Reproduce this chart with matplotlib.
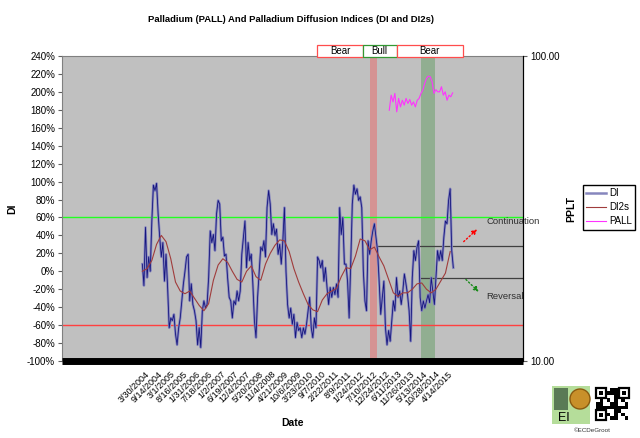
import numpy as np
import pandas as pd
import matplotlib
matplotlib.use('Agg')
import matplotlib.pyplot as plt
from matplotlib.patches import Rectangle, Circle
from matplotlib.ticker import FuncFormatter, NullLocator
import matplotlib.transforms as mtransforms

plt.rcParams['font.family'] = ['Liberation Sans', 'DejaVu Sans']

# %%
# DI readings, one every 21 days starting 2004-02-23 (in %)
di_start = '2004-02-23'
di = [8, -16, 49, -7, 16, 0, 56, 96, 90, 98, 64, 38, 16, 32, -11, 19, -18, -63, -52, -55,
      -48, -70, -82, -63, -52, -33, -14, 0, 16, 19, -33, -14, -37, -44, -55, -82, -63, -85, -44, -33,
      -41, -37, -7, 45, 32, 41, 23, 64, 79, 75,
      34, 38, 17, 19, -7, -29, -33, -52, -33, -37, -22, -33, -22, 19, 38, 56, 4, 32, 12, 19,
      -14, -55, -74, -29, 0, 27, 23, 34, 16, 71, 90, 75, 41, 53, 40, 47, 19, 30, 8, 34,
      71, 0, -37, -52, -41, -59, -48, -74, -57, -66,
      -63, -74, -63, -70, -59, -44, -29, -63, -74, -52, -63, 16, 12, 4, 12, -11, 4, -18, -37, -18,
      -29, -18, -26, -14, -29, 71, 41, 60, 8, 8, -11, -52, 8, 75, 96, 86, 92, 79, 83, 71,
      0, -33, -44, 34, 19, 34, 45, 53, 38, 23, -11,
      -48, -29, -11, -63, -82, -66, -78, -55, -33, -44, -7, -29, -22, -37, -22, -3, -14, -26, -44, -78,
      -7, 23, 12, 27, 34, -29, -44, -33, -41, -33, -26, -35, -7, -22, -37, -7, 23, 12, 23, 12,
      38, 56, 53, 79, 92, 23, 4]

# DI2s readings, every third DI date (in %)
di2s = [0, 3, 12, 30, 40, 33, 14, -12, -22, -25, -22, -30, -38, -44, -36, -10, 7, 14, 10, 0,
        -9, -12, 0, 6, -6, -10, 8, 20, 29, 35, 34, 22, 3, -12, -25, -37, -43, -45, -32, -25,
        -22, -19, -6, 4, 3, 17, 36, 34, 24, 27, 16, 6, -9, -24, -28, -24, -24, -20, -14, -13,
        -20, -24, -20, -11, -2, 22]

# PALL price (right log axis)
pall_start, pall_end = '2013-02-20', '2015-06-13'
pall = [66.4, 74.4, 70.7, 75.4, 65.6, 72.6, 68.1, 71.6, 69.0, 72.6, 69.9, 72.0, 69.0, 70.7, 68.1,
        71.6, 72.6, 75.4, 77.3, 81.3, 84.5, 85.9, 85.5, 82.2, 75.4, 77.6, 76.3, 76.3, 79.3, 74.4,
        76.3, 71.6, 74.4, 73.5, 75.7]

tick_labels = ['3/30/2004', '9/14/2004', '3/1/2005', '8/16/2005', '1/31/2006', '7/18/2006',
               '1/2/2007', '6/19/2007', '12/4/2007', '5/20/2008', '11/4/2008', '4/21/2009',
               '10/6/2009', '3/23/2010', '9/7/2010', '2/22/2011', '8/9/2011', '1/24/2012',
               '7/10/2012', '12/24/2012', '6/11/2013', '11/26/2013', '5/13/2014', '10/28/2014',
               '4/14/2015']

regimes = [('Bear', '2010-07-09', '2012-03-03', '#ff4d4d'),
           ('Bull', '2012-03-03', '2013-05-30', '#339933'),
           ('Bear', '2013-05-30', '2015-10-24', '#ff4d4d')]
bull_band = ('2012-06-09', '2012-09-06')
bear_band = ('2014-04-18', '2014-10-21')
cont_level, rev_level = 28, -8

# %%
di_dates = pd.date_range(di_start, periods=len(di), freq='21D')
di2s_dates = di_dates[::3][:len(di2s)]
pall_dates = pd.date_range(pall_start, pall_end, periods=len(pall))
di = np.array(di) / 100
di2s = np.array(di2s) / 100
x_end = pd.Timestamp('2018-01-04')

fig = plt.figure(figsize=(6.4, 4.38), dpi=100)
ax = fig.add_axes([62/640, 1-361/438, 461/640, 305/438])
ax.set_facecolor('#c0c0c0')

ax.axvspan(pd.Timestamp(bull_band[0]), pd.Timestamp(bull_band[1]), color='#d98c8c', alpha=0.85, lw=0, zorder=1)
ax.axvspan(pd.Timestamp(bear_band[0]), pd.Timestamp(bear_band[1]), color='#8fae8f', alpha=0.95, lw=0, zorder=1)

ax.axhline(0.6, color='#22ff22', lw=1.0, zorder=2)
ax.axhline(-0.6, color='#ff4040', lw=1.0, zorder=2)
ax.plot([pd.Timestamp(bull_band[1]), x_end], [cont_level/100]*2, color='#404040', lw=0.9, zorder=2)
ax.plot([pd.Timestamp(bear_band[0]), x_end], [rev_level/100]*2, color='#404040', lw=0.9, zorder=2)

l_di, = ax.plot(di_dates, di, color='#8686bd', lw=1.8, zorder=3, label='DI')
ax.plot(di_dates, di, color='#14147e', lw=0.6, zorder=4)
l_di2s, = ax.plot(di2s_dates, di2s, color='#a03c3c', lw=0.8, zorder=5, label='DI2s')

ax.axhline(-1, color='black', lw=5, clip_on=False, zorder=6, solid_capstyle='butt')

ax.set_xlim(pd.Timestamp('2001-03-21'), x_end)
ax.set_ylim(-1, 2.4)
ax.set_yticks(np.round(np.arange(-10, 25, 2) / 10, 1))
ax.yaxis.set_major_formatter(FuncFormatter(lambda v, p: f'{v*100:.0f}%'))
ax.tick_params(axis='y', labelsize=7, length=3, color='#606060', pad=2)
ax.set_xticks(pd.to_datetime(tick_labels, format='%m/%d/%Y'))
ax.set_xticklabels(tick_labels, rotation=45, ha='right', rotation_mode='anchor', fontsize=6.5)
ax.tick_params(axis='x', length=0, pad=6)
for s in ['left', 'top', 'bottom']:
    ax.spines[s].set_color('#808080')

# arrows and labels
ax.annotate('', xy=(pd.Timestamp('2016-06-01'), 0.49), xytext=(pd.Timestamp('2015-10-11'), 0.31),
            arrowprops=dict(arrowstyle='-|>', color='red', ls=':', lw=1, mutation_scale=7), annotation_clip=False)
ax.annotate('', xy=(pd.Timestamp('2016-06-20'), -0.25), xytext=(pd.Timestamp('2015-11-10'), -0.07),
            arrowprops=dict(arrowstyle='-|>', color='#1a8a1a', ls=':', lw=1, mutation_scale=7), annotation_clip=False)
ax.text(pd.Timestamp('2016-09-05'), 0.55, 'Continuation', fontsize=6.8, color='#303030', va='center', clip_on=False)
ax.text(pd.Timestamp('2016-09-05'), -0.28, 'Reversal', fontsize=6.8, color='#303030', va='center', clip_on=False)

# regime boxes above plot
trans = mtransforms.blended_transform_factory(ax.transData, ax.transAxes)
for name, a, b, col in regimes:
    x0, x1 = pd.Timestamp(a), pd.Timestamp(b)
    ax.add_patch(Rectangle((x0, 0.997), x1 - x0, 0.039, transform=trans, facecolor='white',
                           edgecolor=col, lw=0.9, clip_on=False, zorder=7))
    ax.text(x0 + (x1 - x0) / 2, 1.0165, name, transform=trans, ha='center', va='center', fontsize=7, zorder=8)

# right axis
ax2 = ax.twinx()
l_pall, = ax2.plot(pall_dates, pall, color='#ff33ff', lw=0.8, label='PALL')
ax2.set_yscale('log')
ax2.set_ylim(10, 100)
ax2.set_yticks([10, 100])
ax2.set_yticklabels(['10.00', '100.00'])
ax2.yaxis.set_minor_locator(NullLocator())
ax2.tick_params(axis='y', labelsize=7, length=3, color='#606060', pad=2)
for s in ['left', 'top', 'bottom']:
    ax2.spines[s].set_visible(False)
ax2.spines['right'].set_color('black')

ax.set_ylabel('DI', fontsize=7.5, fontweight='bold')
ax.yaxis.set_label_coords(-0.098, 0.5)
ax2.set_ylabel('PPLT', fontsize=7.5, fontweight='bold')
ax2.yaxis.set_label_coords(1.093, 0.5)
ax.set_xlabel('Date', fontsize=7.5, fontweight='bold')
ax.xaxis.set_label_coords(0.499, -0.187)

fig.text(291/640, 1-20/438, 'Palladium (PALL) And Palladium Diffusion Indices (DI and DI2s)',
         ha='center', va='center', fontsize=6.8, fontweight='bold')

fig.legend([l_di, l_di2s, l_pall], ['DI', 'DI2s', 'PALL'], loc='upper left',
           bbox_to_anchor=(583/640, 1-185/438), fontsize=7, fancybox=False, edgecolor='black',
           framealpha=1, handlelength=2.0, borderpad=0.35, labelspacing=0.4, handletextpad=0.3,
           borderaxespad=0)

# logo
lax = fig.add_axes([550/640, 1-432/438, 84/640, 50/438])
lax.set_xlim(0, 84)
lax.set_ylim(0, 50)
lax.axis('off')
lax.add_patch(Rectangle((2, 8), 38, 38, facecolor='#b5dd9a', edgecolor='none'))
lax.add_patch(Rectangle((4, 22), 14, 22, facecolor='#5a7a55', edgecolor='none'))
lax.add_patch(Circle((30, 33), 10, facecolor='#c8902a', edgecolor='#8a5a10'))
lax.text(14, 14, 'EI', fontsize=9, ha='center', va='center', color='black')
lax.add_patch(Rectangle((44, 10), 36, 36, facecolor='white', edgecolor='none'))
for i in range(9):
    for j in range(9):
        if (i * 3 + j * 5 + i * j) % 4 < 2:
            lax.add_patch(Rectangle((46 + j * 3.6, 12 + i * 3.6), 3.6, 3.6, facecolor='black', edgecolor='none'))
for (qx, qy) in [(46, 34.5), (68.5, 34.5), (46, 12)]:
    lax.add_patch(Rectangle((qx, qy), 10, 10, facecolor='white', edgecolor='black', lw=1.6))
    lax.add_patch(Rectangle((qx + 3, qy + 3), 4, 4, facecolor='black', edgecolor='none'))
lax.text(42, 2, '\u00a9ECDeGroot', fontsize=4.5, ha='center', va='center', color='#333333')

fig.savefig('out.png', dpi=100)
